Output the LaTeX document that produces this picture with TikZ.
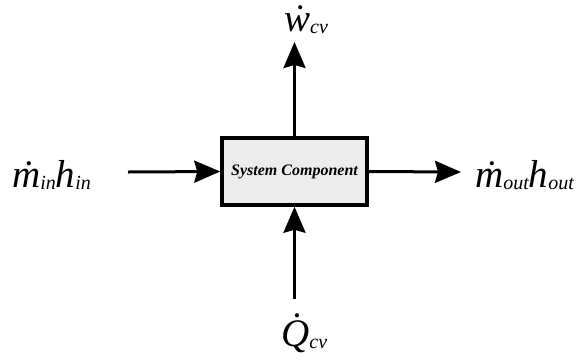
\documentclass[tikz,border=0pt]{standalone}
\usepackage{fontspec}
\setmainfont{Liberation Serif}
\usetikzlibrary{arrows.meta}
\newcommand{\lowsub}[1]{\raisebox{-2bp}{\fontsize{20bp}{20bp}\selectfont #1}}

\begin{document}
\begin{tikzpicture}[x=1bp, y=-1bp, flow/.style={line width=3bp, -{Stealth[length=26bp, width=22bp, inset=3bp]}}, component/.style={draw, line width=3.5bp, fill=gray!15, minimum width=145bp, minimum height=67bp, inner sep=0pt, font=\fontsize{16bp}{16bp}\selectfont\bfseries\itshape}, quantity/.style={anchor=base west, inner sep=0pt, font=\fontsize{39bp}{39bp}\selectfont\itshape}]
	\useasboundingbox (0,0) rectangle (587,361);
	\node[component] (comp) at (294.5,171.5) {System Component};
	\coordinate (inlet) at (128,172);
	\coordinate (outlet) at (461,172);
	\coordinate (work) at (294.5,42);
	\coordinate (heat) at (294.5,299);

	\node[quantity] (inflow) at (12,187) {\.m\lowsub{in}h\lowsub{in}};
	\node[quantity] (outflow) at (475,187) {\.m\lowsub{out}h\lowsub{out}};
	\node[quantity] (power) at (284,31) {\.w\lowsub{cv}};
	\node[quantity] (heatrate) at (281,346) {\.Q\lowsub{cv}};

	\draw[flow] (inlet) -- (comp.west);
	\draw[flow] (comp.east) -- (outlet);
	\draw[flow] (comp.north) -- (work);
	\draw[flow] (heat) -- (comp.south);
\end{tikzpicture}
\end{document}
